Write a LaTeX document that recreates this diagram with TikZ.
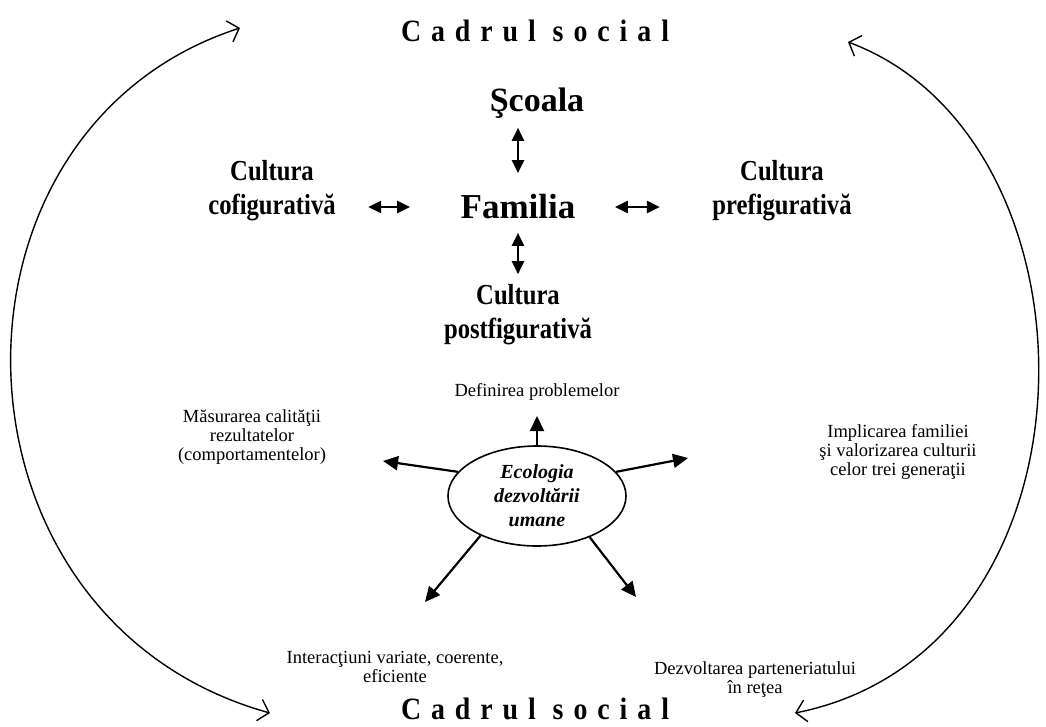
\documentclass[tikz,border=0pt]{standalone}
\usepackage{fontspec}
\setmainfont{Liberation Serif}
\newfontfamily\socialfont[LetterSpace=32,FakeStretch=0.9]{Liberation Serif}
\newfontfamily\culturefont[FakeStretch=0.85]{Liberation Serif}
\usetikzlibrary{arrows.meta,shapes.geometric,positioning}

\begin{document}
\begin{tikzpicture}[
      x=1pt,y=-1pt,
      social/.style={font=\socialfont\fontsize{31}{35}\selectfont\bfseries},
      central/.style={font=\fontsize{35}{40}\selectfont\bfseries},
      culture/.style={align=center,font=\culturefont\fontsize{29}{34}\selectfont\bfseries},
      aim/.style={align=center,font=\fontsize{18.5}{19}\selectfont},
      hub/.style={ellipse,draw,line width=1.6pt,minimum width=178,minimum height=100,
        align=center,font=\fontsize{20}{24}\selectfont\bfseries\itshape},
      arc/.style={line width=1.4pt,
        {Straight Barb[length=10pt,width=22pt]}-{Straight Barb[length=10pt,width=22pt]}},
      duo/.style={line width=2.2pt,
        {Triangle[length=13pt,width=12pt]}-{Triangle[length=13pt,width=12pt]}},
      outarrow/.style={line width=2.2pt,-{Triangle[length=15pt,width=14pt]}}
    ]
      \useasboundingbox (0,0) rectangle (1046,727);

      % social frame
      \node[social] (topsocial) at (535,31) {Cadrul social};
      \node[social] (botsocial) at (535,709) {Cadrul social};
      \coordinate (lefttop) at (240,28);
      \coordinate (leftbot) at (270,713);
      \coordinate (righttop) at (848,42);
      \coordinate (rightbot) at (795,713);
      \draw[arc] (lefttop) .. controls (-75,130) and (-65,620) .. (leftbot);
      \draw[arc] (righttop) .. controls (1110,140) and (1110,650) .. (rightbot);

      % family and the three cultures
      \node[central,font=\fontsize{34}{40}\selectfont\bfseries] (scoala) at (537,103) {Şcoala};
      \node[central] (familia) at (518,207) {Familia};
      \node[culture] (cofig) at (272,191) {Cultura\\cofigurativă};
      \node[culture] (prefig) at (782,191) {Cultura\\prefigurativă};
      \node[culture] (postfig) at (518,315) {Cultura\\postfigurativă};

      \draw[duo,shorten <=6pt,shorten >=18pt] (familia.north |- scoala.south) -- (familia.north);
      \draw[duo,shorten <=10pt,shorten >=7pt] (familia.south) -- (postfig.north);
      \draw[duo,shorten <=47pt,shorten >=29pt] (familia.west) -- (familia.west -| cofig.east);
      \draw[duo,shorten <=36pt,shorten >=49pt] (familia.east) -- (familia.east -| prefig.west);

      % ecology of human development
      \node[hub] (eco) at (537,496) {Ecologia\\dezvoltării\\umane};
      \node[aim] (defin) at (537,392) {Definirea problemelor};
      \node[aim] (masur) at (252,437) {Măsurarea calităţii\\rezultatelor\\(comportamentelor)};
      \node[aim] (impl) at (898,452) {Implicarea familiei\\şi valorizarea culturii\\celor trei generaţii};
      \node[aim] (inter) at (395,667) {Interacţiuni variate, coerente,\\eficiente};
      \node[aim] (dezv) at (755,680) {Dezvoltarea parteneriatului\\în reţea};

      \coordinate (masurtip) at (383,461);
      \coordinate (impltip) at (688,458);
      \coordinate (intertip) at (425,602);
      \coordinate (dezvtip) at (636,597);

      \draw[outarrow,shorten >=12pt] (eco.north) -- (defin.south);
      \draw[outarrow] (eco.163) -- (masurtip);
      \draw[outarrow] (eco.17) -- (impltip);
      \draw[outarrow] (eco.-145) -- (intertip);
      \draw[outarrow] (eco.-38) -- (dezvtip);
    \end{tikzpicture}
\end{document}
